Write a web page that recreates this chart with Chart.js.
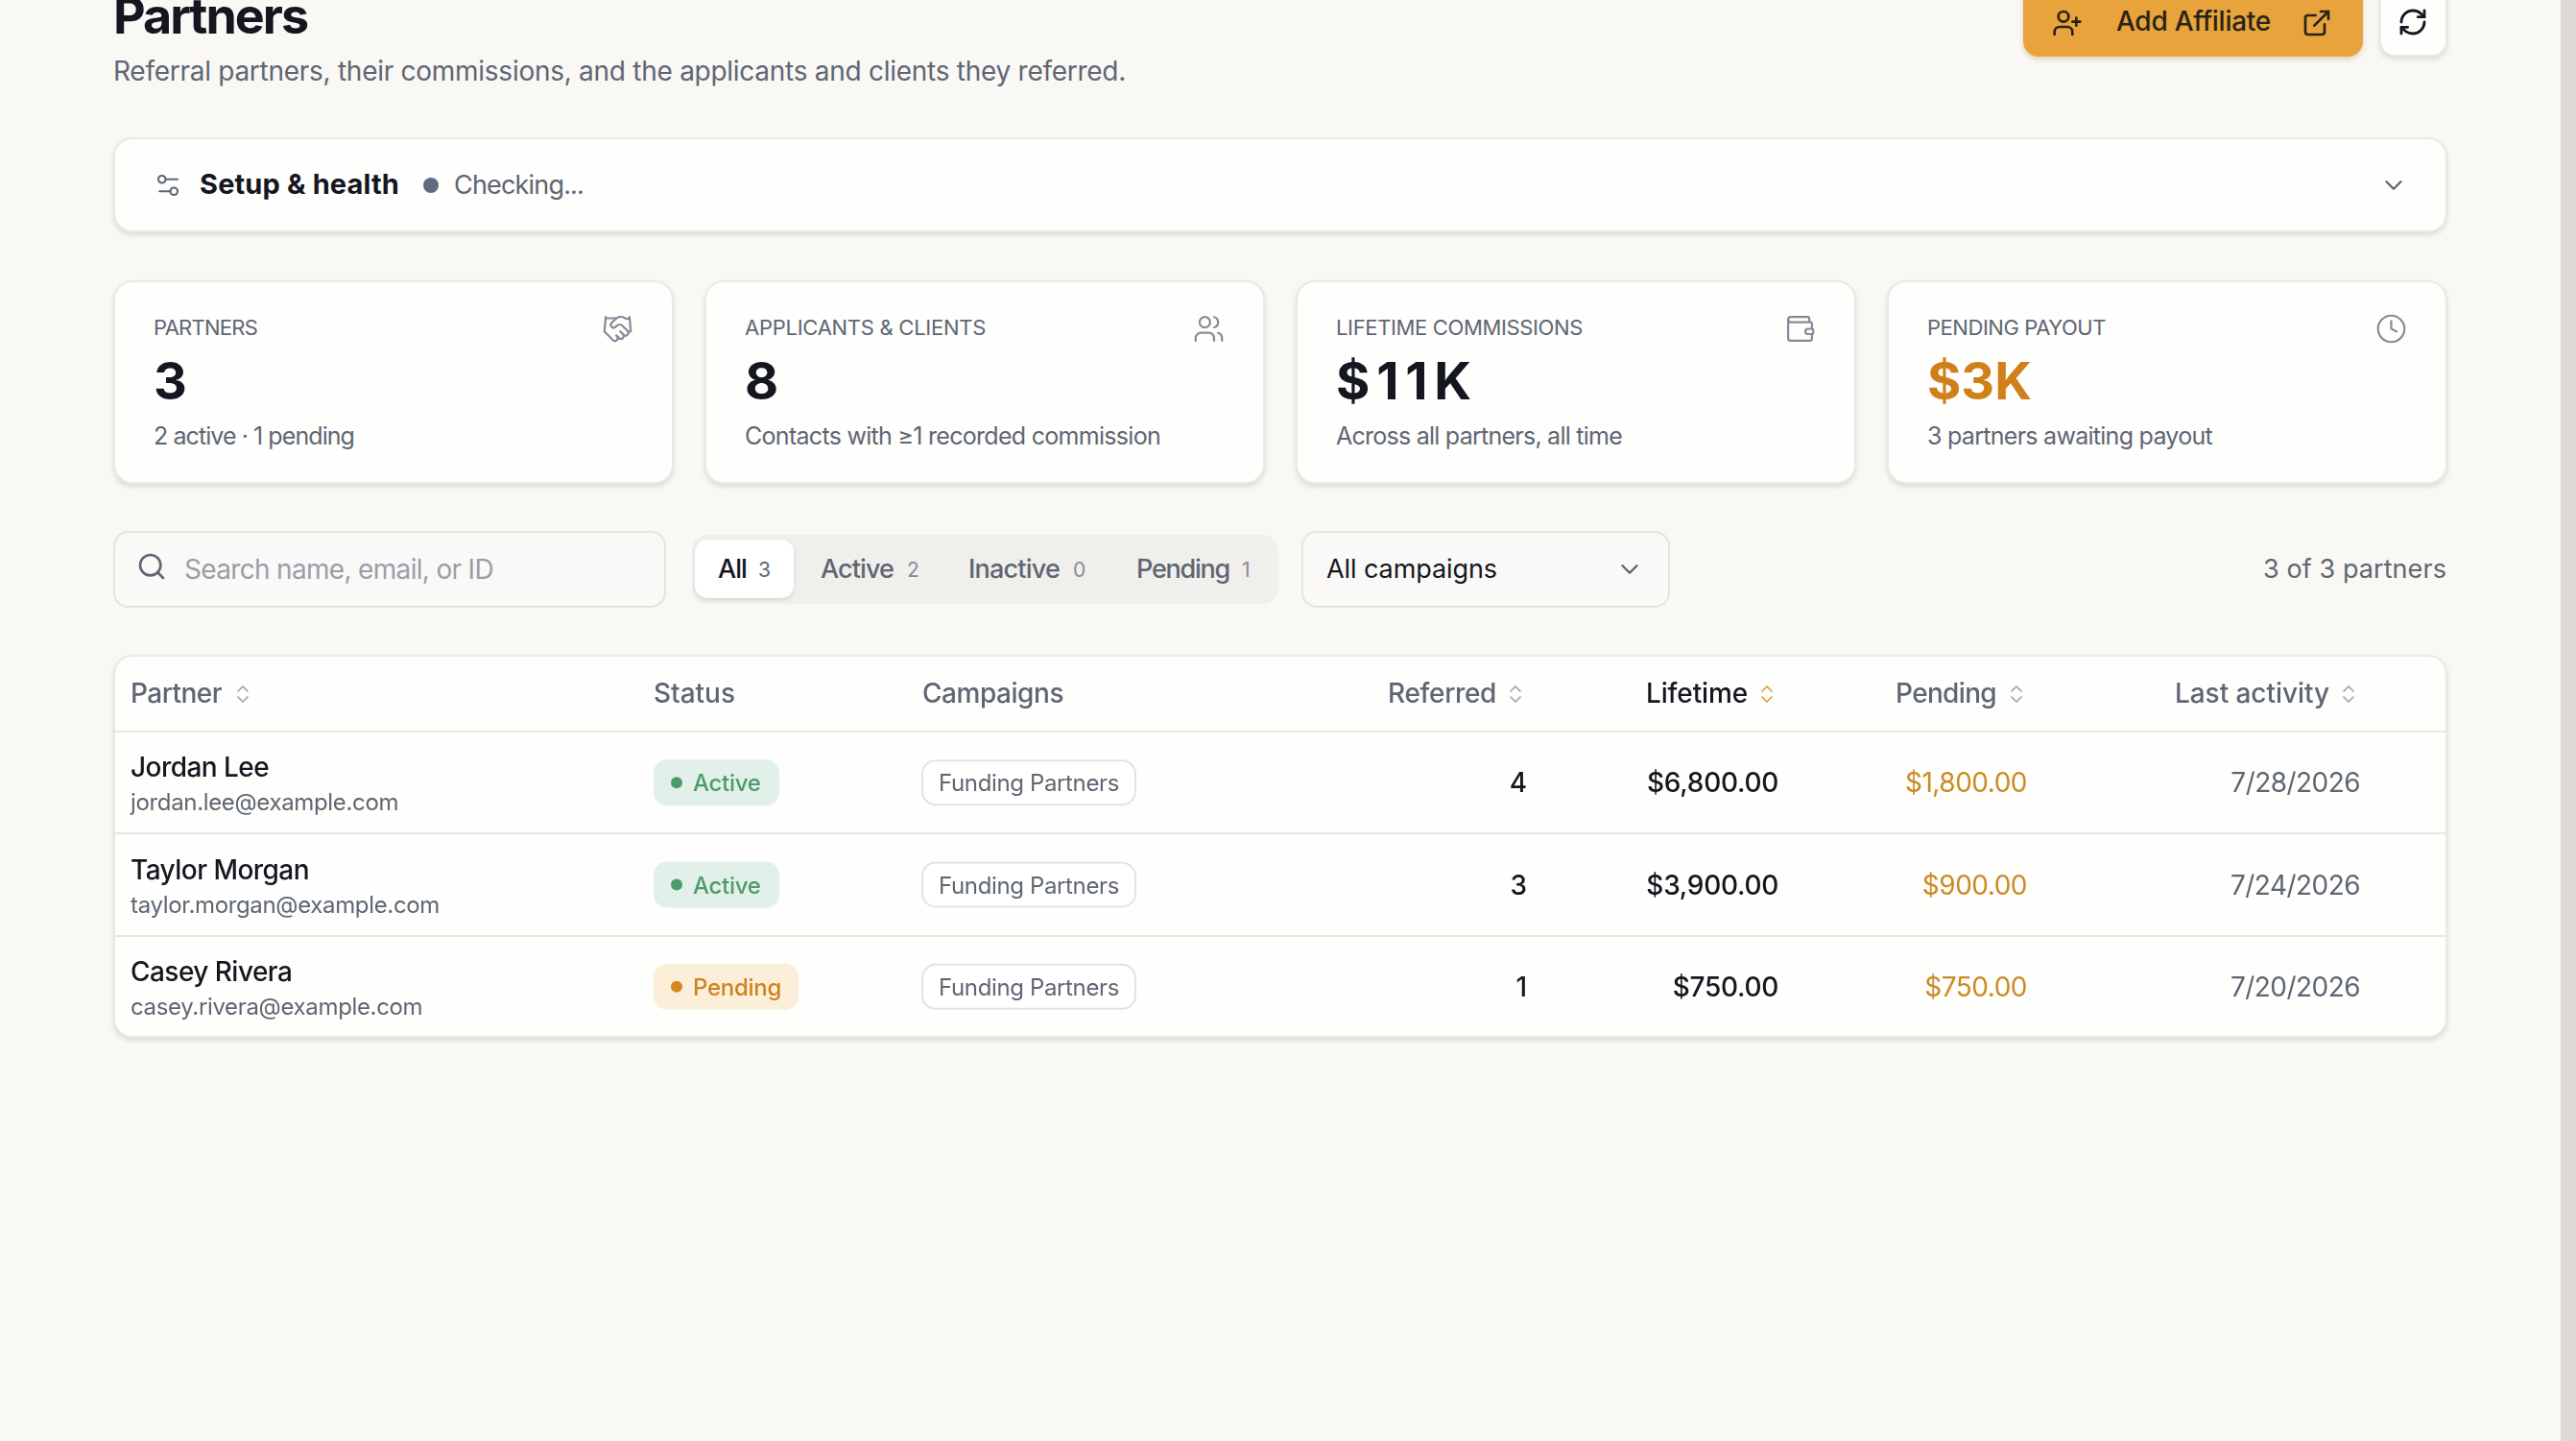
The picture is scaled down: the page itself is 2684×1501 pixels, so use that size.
<!DOCTYPE html>
<html>
<head>
<meta charset="utf-8">
<title>Partners</title>
<script src="https://cdn.jsdelivr.net/npm/chart.js@4"></script>
<style>
    html, body { margin: 0; padding: 0; width: 2684px; height: 1501px; overflow: hidden; background: #f9f8f5; }
    body { position: relative; font-family: Inter, sans-serif; }
    .box { position: absolute; box-sizing: border-box; }
    .panel { background: #fefefd; border: 2px solid #ebe9e4; border-radius: 20px; box-shadow: 0 3px 5px rgba(60, 50, 40, .14); }
    .txt { position: absolute; white-space: pre; }
    svg.ico { position: absolute; fill: none; stroke-linecap: round; stroke-linejoin: round; }
    canvas { position: absolute; z-index: 2; }
</style>
</head>
<body>
<canvas id="tabela"></canvas>
<script>
const FONT = "Inter, sans-serif";

const kpiLabels = ["PARTNERS", "APPLICANTS & CLIENTS", "LIFETIME COMMISSIONS", "PENDING PAYOUT"];
const kpiValues = ["3", "8", "$11K", "$3K"];
const kpiNotes = ["2 active · 1 pending", "Contacts with ≥1 recorded commission", "Across all partners, all time", "3 partners awaiting payout"];

const columnHeaders = ["Partner", "Status", "Campaigns", "Referred", "Lifetime", "Pending", "Last activity"];
const partnerNames = ["Jordan Lee", "Taylor Morgan", "Casey Rivera"];
const partnerEmails = ["jordan.lee@example.com", "taylor.morgan@example.com", "casey.rivera@example.com"];
const partnerStatus = ["Active", "Active", "Pending"];
const partnerCampaigns = ["Funding Partners", "Funding Partners", "Funding Partners"];
const referredCounts = [4, 3, 1];
const lifetimeAmounts = [6800, 3900, 750];
const pendingAmounts = [1800, 900, 750];
const lastActivity = ["7/28/2026", "7/24/2026", "7/20/2026"];

const filterLabels = ["All", "Active", "Inactive", "Pending"];
const filterCounts = [3, 2, 0, 1];

// ---- icones (caminhos no grid 24x24)
const ICONS = {
    sliders: '<path d="M20 7h-9"/><path d="M14 17H5"/><circle cx="17" cy="17" r="3"/><circle cx="7" cy="7" r="3"/>',
    handshake: '<path d="m11 17 2 2a1 1 0 1 0 3-3"/><path d="m14 14 2.5 2.5a1 1 0 1 0 3-3l-3.88-3.88a3 3 0 0 0-4.24 0l-.88.88a1 1 0 1 1-3-3l2.81-2.81a5.79 5.79 0 0 1 7.06-.87l.47.28a2 2 0 0 0 1.42.25L21 4"/><path d="m21 3 1 11h-2"/><path d="M3 3 2 14l6.5 6.5a1 1 0 1 0 3-3"/><path d="M3 4h8"/>',
    users: '<path d="M16 21v-2a4 4 0 0 0-4-4H6a4 4 0 0 0-4 4v2"/><circle cx="9" cy="7" r="4"/><path d="M22 21v-2a4 4 0 0 0-3-3.87"/><path d="M16 3.13a4 4 0 0 1 0 7.75"/>',
    wallet: '<path d="M19 7V4a1 1 0 0 0-1-1H5a2 2 0 0 0 0 4h15a1 1 0 0 1 1 1v4h-3a2 2 0 0 0 0 4h3a1 1 0 0 0 1-1v-2a1 1 0 0 0-1-1"/><path d="M3 5v14a2 2 0 0 0 2 2h15a1 1 0 0 0 1-1v-4"/>',
    clock: '<circle cx="12" cy="12" r="10"/><polyline points="12 6 12 12 16 14"/>',
    userPlus: '<path d="M16 21v-2a4 4 0 0 0-4-4H6a4 4 0 0 0-4 4v2"/><circle cx="9" cy="7" r="4"/><line x1="19" x2="19" y1="8" y2="14"/><line x1="22" x2="16" y1="11" y2="11"/>',
    external: '<path d="M15 3h6v6"/><path d="M10 14 21 3"/><path d="M18 13v6a2 2 0 0 1-2 2H5a2 2 0 0 1-2-2V8a2 2 0 0 1 2-2h6"/>',
    refresh: '<path d="M3 12a9 9 0 0 1 9-9 9.75 9.75 0 0 1 6.74 2.74L21 8"/><path d="M21 3v5h-5"/><path d="M21 12a9 9 0 0 1-9 9 9.75 9.75 0 0 1-6.74-2.74L3 16"/><path d="M8 16H3v5"/>',
    search: '<circle cx="11" cy="11" r="8"/><path d="m21 21-4.3-4.3"/>',
    chevron: '<path d="m6 9 6 6 6-6"/>'
};

const medidor = document.createElement("canvas").getContext("2d");

function caixa(x, y, w, h, css, cls) {
    const d = document.createElement("div");
    d.className = "box " + (cls || "");
    d.style.cssText = `left:${x}px;top:${y}px;width:${w}px;height:${h}px;${css || ""}`;
    document.body.appendChild(d);
    return d;
}

// texto com a linha de base em y; largura opcional ajustada via letter-spacing
function texto(str, x, y, size, weight, color, width) {
    const font = `${weight} ${size}px ${FONT}`;
    medidor.font = font;
    medidor.letterSpacing = "0px";
    const m = medidor.measureText(str);
    const s = document.createElement("span");
    s.className = "txt";
    s.textContent = str;
    const top = y - size / 2 - (m.fontBoundingBoxAscent - m.fontBoundingBoxDescent) / 2;
    s.style.cssText = `left:${x}px;top:${top}px;font:${font};line-height:${size}px;color:${color};`;
    if (width) s.style.letterSpacing = ((width - m.width) / str.length) + "px";
    document.body.appendChild(s);
}

function icone(nome, x, y, size, color, sw) {
    const ns = "http://www.w3.org/2000/svg";
    const g = document.createElementNS(ns, "svg");
    g.setAttribute("class", "ico");
    g.setAttribute("viewBox", "0 0 24 24");
    g.setAttribute("width", size);
    g.setAttribute("height", size);
    g.style.left = x + "px";
    g.style.top = y + "px";
    g.style.stroke = color;
    g.style.strokeWidth = sw;
    g.innerHTML = ICONS[nome];
    document.body.appendChild(g);
}

const INK = "#14171f", GRAY = "#5f6672", AMBER = "#cf8019";

// ---- cabecalho da pagina
texto("Partners", 118, 35, 52, 700, INK, 202);
texto("Referral partners, their commissions, and the applicants and clients they referred.", 118, 84, 28, 400, GRAY, 1055);

caixa(2108, -20, 354, 79, "background:#e8a33d;border-radius:16px;box-shadow:0 3px 5px rgba(160,110,30,.25);");
icone("userPlus", 2138, 8, 32, "#2a2416", 2);
texto("Add Affiliate", 2205, 32, 28, 500, "#2a2416", 161);
icone("external", 2398, 8, 32, "#2a2416", 2);
caixa(2479, -20, 71, 79, "border-radius:16px;", "panel");
icone("refresh", 2498, 7, 32, INK, 2.1);

// ---- setup & health
caixa(118, 143, 2432, 99, "", "panel");
icone("sliders", 160, 178, 30, GRAY, 1.7);
texto("Setup & health", 208, 202, 29, 700, INK, 208);
caixa(441, 185, 16, 16, "background:#5f6b7e;border-radius:50%;");
texto("Checking...", 473, 202, 27, 400, GRAY, 135);
icone("chevron", 2479, 178, 30, GRAY, 1.9);

// ---- cartoes KPI
const cardLeft = [118, 734, 1350, 1966];
const cardIcons = ["handshake", "users", "wallet", "clock"];
const labelWidths = [108, 251, 257, 186];
const valueWidths = [29, 31, 148, 109];
const noteWidths = [209, 433, 298, 297];
kpiLabels.forEach(function (label, i) {
    const x = cardLeft[i];
    caixa(x, 292, 584, 212, "", "panel");
    texto(label, x + 42, 349, 22, 400, GRAY, labelWidths[i]);
    texto(kpiValues[i], x + 42, 416, 54, 700, i === 3 ? AMBER : INK, valueWidths[i]);
    texto(kpiNotes[i], x + 42, 463, 25, 400, GRAY, noteWidths[i]);
    icone(cardIcons[i], x + 509, 326, 33, "#858b96", 1.6);
});

// ---- filtros
caixa(118, 553, 576, 80, "border:2px solid #e6e3dd;border-radius:16px;background:#faf9f7;");
icone("search", 142, 574, 32, GRAY, 2);
texto("Search name, email, or ID", 192, 603, 28, 400, "#9a9ea8", 322);

caixa(721, 557, 611, 72, "background:#f1efec;border-radius:16px;");
caixa(724, 562, 103, 61, "background:#fff;border-radius:13px;box-shadow:0 2px 4px rgba(60,50,40,.14);");
const filterX = [748, 855, 1009, 1184];
const filterW = [30, 76, 95, 97];
const countX = [790, 945, 1118, 1294];
filterLabels.forEach(function (label, i) {
    texto(label, filterX[i], 602, 27, 500, i === 0 ? INK : GRAY, filterW[i]);
    texto(String(filterCounts[i]), countX[i], 601, 21, 400, i === 0 ? GRAY : "#868c97");
});

caixa(1356, 553, 384, 80, "border:2px solid #e6e3dd;border-radius:16px;background:#faf9f7;");
texto("All campaigns", 1382, 602, 27, 400, INK, 178);
icone("chevron", 1683, 578, 30, GRAY, 1.9);
texto("3 of 3 partners", 2358, 602, 27, 400, GRAY, 191);

// ---- scrollbar
caixa(2668, 0, 16, 1501, "background:#dcd9d4;");

// ---- tabela desenhada pelo Chart.js
const TABLE = { x: 118, y: 682, w: 2432, h: 399, headH: 80 };
caixa(TABLE.x, TABLE.y, TABLE.w, TABLE.h, "", "panel");

// posicao de cada coluna no eixo x (px da tabela); direita = alinhada a direita
const COLUMN_X = { partner: 18, status: 563, campaigns: 843, referred: 1473, lifetime: 1735, pending: 1994, last: 2341 };
const HEADER_X = [18, 563, 843, 1328, 1597, 1857, 2148];
const HEADER_W = [95, 85, 147, 113, 106, 105, 161];
const SORT_X = [124, null, null, 1450, 1712, 1972, 2318];

function moeda(v) {
    return "$" + v.toLocaleString("en-US", { minimumFractionDigits: 2, maximumFractionDigits: 2 });
}

const sortPaths = [new Path2D("m7 15 5 5 5-5"), new Path2D("m7 9 5-5 5 5")];

function espaco(ctx, font, amostra, largura) {
    ctx.font = font;
    ctx.letterSpacing = "0px";
    return ((largura - ctx.measureText(amostra).width) / amostra.length) + "px";
}

function escreve(ctx, str, x, y, font, color, ls, align) {
    ctx.font = font;
    ctx.letterSpacing = ls;
    ctx.fillStyle = color;
    ctx.textAlign = align || "left";
    ctx.textBaseline = "alphabetic";
    ctx.fillText(str, x, y);
}

function pilula(ctx, x, y, w, h, r, fill, stroke) {
    ctx.beginPath();
    ctx.roundRect(x, y, w, h, r);
    ctx.fillStyle = fill;
    ctx.fill();
    if (stroke) {
        ctx.lineWidth = 2;
        ctx.strokeStyle = stroke;
        ctx.stroke();
    }
}

const statusStyle = {
    Active: { bg: "#e1f0e8", fg: "#4f9a6c", w: 131 },
    Pending: { bg: "#fcefda", fg: "#cf8220", w: 151 }
};

const tabelaPlugin = {
    id: "tabelaPlugin",
    beforeDatasetsDraw: function (chart) {
        const ctx = chart.ctx, xs = chart.scales.x, ys = chart.scales.y;
        ctx.save();
        partnerNames.forEach(function (nome, i) {
            const cy = ys.getPixelForValue(i);
            const st = statusStyle[partnerStatus[i]];
            pilula(ctx, xs.getPixelForValue(COLUMN_X.status), cy - 24, st.w, 48, 14, st.bg);
            pilula(ctx, xs.getPixelForValue(COLUMN_X.campaigns), cy - 23, 222, 46, 14, "#ffffff", "#e5e3df");
        });
        ctx.restore();
    },
    afterDatasetsDraw: function (chart) {
        const ctx = chart.ctx, xs = chart.scales.x, ys = chart.scales.y;
        const fHead = `500 28px ${FONT}`;
        const fName = `500 28px ${FONT}`;
        const fMail = `400 24px ${FONT}`;
        const fBadge = `500 24px ${FONT}`;
        const fPill = `400 24px ${FONT}`;
        const fMoney = `500 28px ${FONT}`;
        const fPend = `400 28px ${FONT}`;
        const fDate = `400 28px ${FONT}`;
        const lsName = espaco(ctx, fName, "Taylor Morgan", 186);
        const lsMail = espaco(ctx, fMail, "taylor.morgan@example.com", 322);
        const lsBadge = espaco(ctx, fBadge, "Pending", 92);
        const lsPill = espaco(ctx, fPill, "Funding Partners", 188);
        const lsMoney = espaco(ctx, fMoney, "$6,800.00", 137);
        const lsPend = espaco(ctx, fPend, "$1,800.00", 127);
        const lsDate = espaco(ctx, fDate, "7/24/2026", 135);

        ctx.save();
        // cabecalho
        const headY = chart.chartArea.top - 30;
        columnHeaders.forEach(function (h, i) {
            const x = xs.getPixelForValue(HEADER_X[i]);
            const ativo = h === "Lifetime";
            escreve(ctx, h, x, headY, fHead, ativo ? INK : GRAY, espaco(ctx, fHead, h, HEADER_W[i]));
            if (SORT_X[i] !== null) {
                ctx.save();
                ctx.translate(xs.getPixelForValue(SORT_X[i]) - 1, headY - 21);
                ctx.strokeStyle = ativo ? "#dda02c" : "#9ea3ac";
                ctx.lineWidth = 1.7;
                ctx.lineCap = "round";
                ctx.lineJoin = "round";
                sortPaths.forEach(function (p) { ctx.stroke(p); });
                ctx.restore();
            }
        });

        // linhas
        partnerNames.forEach(function (nome, i) {
            const cy = ys.getPixelForValue(i);
            const st = statusStyle[partnerStatus[i]];
            escreve(ctx, nome, xs.getPixelForValue(COLUMN_X.partner), cy - 6, fName, INK, lsName);
            escreve(ctx, partnerEmails[i], xs.getPixelForValue(COLUMN_X.partner), cy + 29, fMail, GRAY, lsMail);
            escreve(ctx, partnerStatus[i], xs.getPixelForValue(COLUMN_X.status) + 41, cy + 9, fBadge, st.fg, lsBadge);
            escreve(ctx, partnerCampaigns[i], xs.getPixelForValue(COLUMN_X.campaigns) + 17, cy + 9, fPill, GRAY, lsPill);
            escreve(ctx, String(referredCounts[i]), xs.getPixelForValue(COLUMN_X.referred), cy + 10, fName, INK, "0px", "right");
            escreve(ctx, moeda(lifetimeAmounts[i]), xs.getPixelForValue(COLUMN_X.lifetime), cy + 10, fMoney, INK, lsMoney, "right");
            escreve(ctx, moeda(pendingAmounts[i]), xs.getPixelForValue(COLUMN_X.pending), cy + 10, fPend, "#cc8a22", lsPend, "right");
            escreve(ctx, lastActivity[i], xs.getPixelForValue(COLUMN_X.last), cy + 10, fDate, GRAY, lsDate, "right");
        });
        ctx.restore();
    }
};

const canvas = document.getElementById("tabela");
canvas.style.left = TABLE.x + "px";
canvas.style.top = TABLE.y + "px";
canvas.width = TABLE.w;
canvas.height = TABLE.h;

new Chart(canvas, {
    type: "scatter",
    data: {
        datasets: [{
            label: "Status",
            data: partnerNames.map(function (nome) { return { x: COLUMN_X.status + 24, y: nome }; }),
            backgroundColor: partnerStatus.map(function (s) { return s === "Active" ? "#4f9a6c" : "#d9861d"; }),
            borderWidth: 0,
            pointRadius: 6
        }]
    },
    plugins: [tabelaPlugin],
    options: {
        responsive: false,
        animation: false,
        devicePixelRatio: 1,
        layout: { autoPadding: false, padding: { top: TABLE.headH } },
        plugins: { legend: { display: false }, tooltip: { enabled: false } },
        scales: {
            x: { type: "linear", min: 0, max: TABLE.w, display: false },
            y: {
                type: "category",
                labels: partnerNames,
                offset: true,
                ticks: { display: false },
                border: { display: false },
                grid: {
                    offset: true,
                    drawTicks: false,
                    lineWidth: 2,
                    // a ultima linha (sem tick) coincide com a borda do cartao
                    color: function (c) { return c.tick ? "#e8e6e1" : "rgba(0,0,0,0)"; }
                }
            }
        }
    }
});
</script>
</body>
</html>
